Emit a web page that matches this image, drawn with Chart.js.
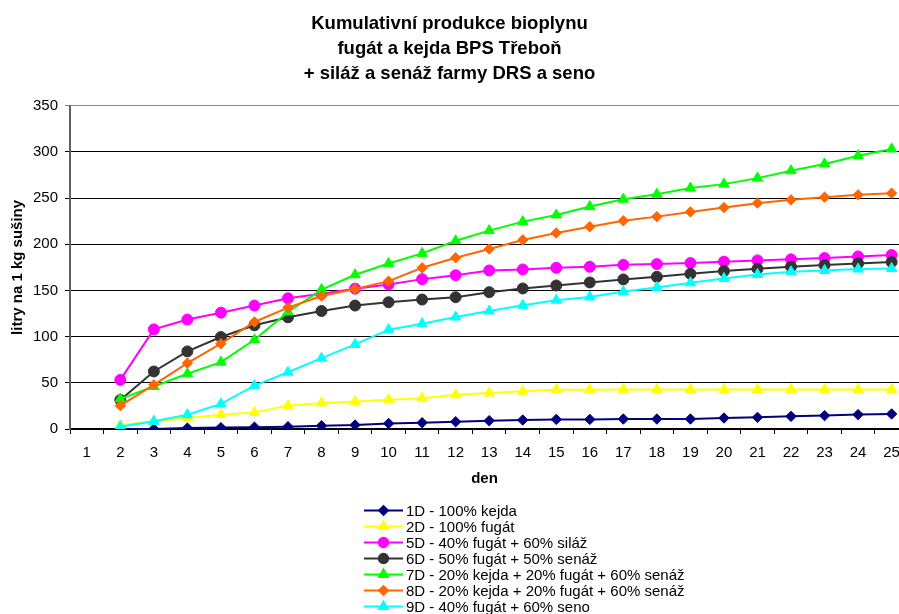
<!DOCTYPE html>
<html lang="cs">
<head>
<meta charset="utf-8">
<title>Kumulativní produkce bioplynu</title>
<script src="https://cdn.jsdelivr.net/npm/chart.js@4.4.1/dist/chart.umd.min.js"></script>
<style>
  html, body { margin: 0; padding: 0; background: #fff; overflow: hidden; }
  #wrap { width: 899px; height: 614px; }
</style>
</head>
<body>
<div id="wrap"><canvas id="bioChart" width="899" height="614"></canvas></div>
<script>
// DATA
const days = [1, 2, 3, 4, 5, 6, 7, 8, 9, 10, 11, 12, 13, 14, 15, 16, 17, 18, 19, 20, 21, 22, 23, 24, 25];
const yTicks = [0, 50, 100, 150, 200, 250, 300, 350];

const seriesNames = [
  '1D - 100% kejda',
  '2D - 100% fugát',
  '5D - 40% fugát + 60% siláž',
  '6D - 50% fugát + 50% senáž',
  '7D - 20% kejda + 20% fugát + 60% senáž',
  '8D - 20% kejda + 20% fugát + 60% senáž',
  '9D - 40% fugát + 60% seno'
];

const d1D = [null, 0, 0, 1, 1.5, 2, 2.5, 3.5, 4.3, 6, 6.8, 7.9, 9, 9.7, 10.4, 10.4, 10.8, 10.8, 10.8, 11.9, 12.6, 13.7, 14.5, 15.6, 16.3];
const d2D = [null, 4.3, 8.3, 12, 15.5, 18, 25.3, 28.2, 29.7, 31.8, 33.3, 37, 39, 40.9, 42.4, 42.6, 42.8, 42.8, 42.8, 42.8, 42.8, 42.8, 42.8, 42.8, 42.8];
const d5D = [null, 53.2, 107.9, 118.5, 126, 133.7, 141.6, 146.5, 152, 156.5, 162.3, 166.6, 171.7, 172.8, 174.6, 175.7, 177.8, 178.6, 179.7, 181.2, 182.6, 183.7, 185.1, 186.9, 188.4];
const d6D = [null, 31.5, 62.3, 84, 99.6, 112.3, 121, 127.8, 133.7, 137.3, 140.2, 142.7, 148.2, 152.2, 155.4, 158.7, 162, 164.8, 168.1, 171, 173.5, 175.7, 177.5, 179.3, 180.8];
const d7D = [null, 32.6, 46, 59.8, 72.4, 96.7, 126.7, 151, 167, 179.3, 190.2, 203.9, 214.8, 224.6, 231.8, 240.9, 248.9, 254.3, 260.9, 265.2, 271.7, 279.7, 287, 296, 303.3];
const d8D = [null, 25.3, 47.8, 71.3, 92.4, 115.9, 131.5, 144.1, 151.6, 160.1, 174.6, 185.4, 194.9, 204.7, 212.3, 219.1, 225.5, 230, 235.1, 239.8, 244.6, 248.2, 251.1, 253.6, 255.4];
const d9D = [null, 2.5, 8.3, 15.5, 27.2, 47, 61.5, 76.7, 91.6, 107.6, 114.1, 121.3, 127.8, 134, 139.5, 143, 148.8, 153.3, 158.3, 163, 167.4, 170.2, 171.7, 173.2, 173.9];

const seriesData = [d1D, d2D, d5D, d6D, d7D, d8D, d9D];
const seriesColors = ['#000080', '#FFFF00', '#FF00FF', '#333333', '#00FF00', '#FF6600', '#00FFFF'];
const seriesMarkers = ['rectRot', 'triangle', 'circle', 'circle', 'triangle', 'rectRot', 'triangle'];
const markerSizes = { rectRot: 5.2, triangle: 6, circle: 5.5 };

const FONT = "'Liberation Sans', Arial, sans-serif";

// legenda pod grafem (seznam pod sebou jako v Excelu)
const listLegend = {
  id: 'listLegend',
  afterDraw(chart, args, opts) {
    const ctx = chart.ctx;
    ctx.save();
    chart.data.datasets.forEach((ds, i) => {
      const y = opts.top + i * opts.step;
      ctx.strokeStyle = ds.borderColor;
      ctx.lineWidth = 2;
      ctx.beginPath();
      ctx.moveTo(opts.lineStart, y);
      ctx.lineTo(opts.lineEnd, y);
      ctx.stroke();
      ctx.fillStyle = ds.pointBackgroundColor;
      ctx.strokeStyle = ds.pointBorderColor;
      Chart.helpers.drawPoint(ctx, {
        pointStyle: ds.pointStyle,
        radius: ds.pointRadius * 0.85,
        rotation: 0,
        borderWidth: 1
      }, (opts.lineStart + opts.lineEnd) / 2, y);
      ctx.fillStyle = '#000';
      ctx.font = '15px ' + FONT;
      ctx.textAlign = 'left';
      ctx.textBaseline = 'middle';
      ctx.fillText(ds.label, opts.textX, y + 1);
    });
    ctx.restore();
  }
};

new Chart(document.getElementById('bioChart'), {
  type: 'line',
  data: {
    labels: days,
    datasets: seriesNames.map((name, i) => ({
      label: name,
      data: seriesData[i],
      borderColor: seriesColors[i],
      backgroundColor: seriesColors[i],
      pointBackgroundColor: seriesColors[i],
      pointBorderColor: seriesColors[i],
      pointStyle: seriesMarkers[i],
      pointRadius: markerSizes[seriesMarkers[i]],
      pointBorderWidth: 1,
      borderWidth: 2,
      tension: 0,
      fill: false,
      order: seriesNames.length - i
    }))
  },
  options: {
    responsive: false,
    animation: false,
    devicePixelRatio: 1,
    layout: { autoPadding: false, padding: { left: 0, right: 0, top: 0, bottom: 126 } },
    plugins: {
      legend: { display: false },
      tooltip: { enabled: false },
      title: {
        display: true,
        text: ['Kumulativní produkce bioplynu', 'fugát a kejda BPS Třeboň', '+ siláž a senáž farmy DRS a seno'],
        color: '#000',
        font: { family: FONT, size: 18.5, weight: 'bold', lineHeight: 1.33 },
        padding: { top: 12, bottom: 20 }
      },
      listLegend: { top: 510.5, step: 16, lineStart: 364, lineEnd: 403, textX: 406 }
    },
    scales: {
      x: {
        type: 'linear',
        min: 0.5,
        max: 25.22,
        afterBuildTicks(scale) {
          scale.ticks = days.map(d => ({ value: d }));
        },
        afterFit(scale) {
          scale.paddingLeft = 0;
          scale.paddingRight = 0;
        },
        ticks: {
          color: '#000',
          font: { family: FONT, size: 15 },
          padding: 10,
          maxRotation: 0,
          autoSkip: false
        },
        grid: {
          offset: true,
          drawOnChartArea: false,
          drawTicks: true,
          tickLength: 5,
          color: '#000',
          lineWidth: 1
        },
        border: { display: true, color: '#000', width: 2 },
        title: {
          display: true,
          text: 'den',
          color: '#000',
          font: { family: FONT, size: 15, weight: 'bold' },
          padding: { top: -2, bottom: 0 }
        }
      },
      y: {
        min: 0,
        max: 350,
        afterBuildTicks(scale) {
          scale.ticks = yTicks.map(v => ({ value: v }));
        },
        afterFit(scale) {
          scale.width = 70;
        },
        ticks: {
          color: '#000',
          font: { family: FONT, size: 15 },
          padding: 7
        },
        grid: {
          color: ctx => (ctx.tick && ctx.tick.value === 350 ? '#8a8a8a' : '#000'),
          lineWidth: 1,
          tickLength: 5
        },
        border: { display: true, color: '#606060', width: 2 },
        title: {
          display: true,
          text: 'litry na 1 kg sušiny',
          color: '#000',
          font: { family: FONT, size: 15, weight: 'bold' },
          padding: { top: 9, bottom: 6 }
        }
      }
    }
  },
  plugins: [listLegend]
});
</script>
</body>
</html>
